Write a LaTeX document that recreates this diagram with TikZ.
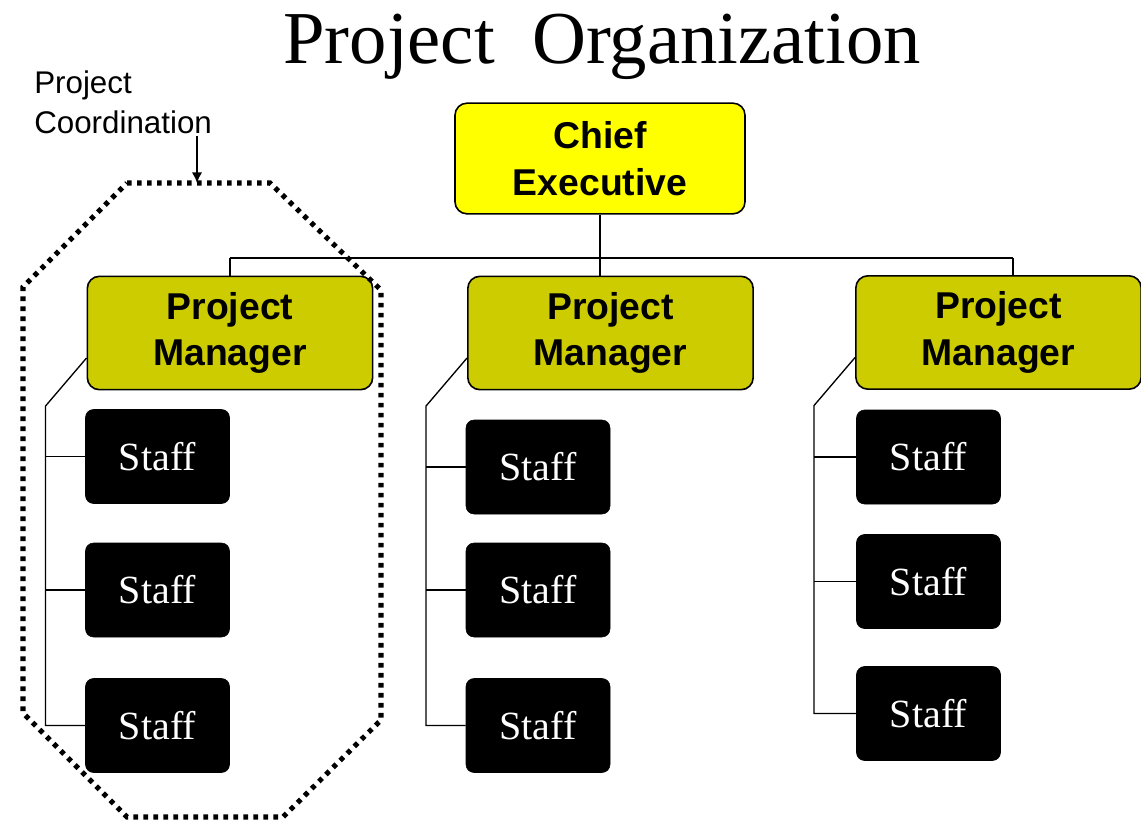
\documentclass[tikz,border=0pt]{standalone}
\usepackage{fontspec}
\setmainfont{Liberation Serif}
\setsansfont{Liberation Sans}
\usetikzlibrary{arrows.meta}

\begin{document}
\begin{tikzpicture}[x=0.75pt,y=0.75pt,yscale=-1]
\tikzstyle{every node}=[inner sep=0.75pt]
\tikzstyle{chiefbox}=[draw=black, line width=1.2pt, fill={rgb,255:red,255;green,255;blue,0}, rounded corners=9pt, minimum width=217.5pt, minimum height=83pt, align=center, font=\sffamily\bfseries\fontsize{28}{35}\selectfont]
\tikzstyle{pmbox}=[chiefbox, fill={rgb,255:red,204;green,204;blue,0}, minimum width=214pt, minimum height=85pt]
\tikzstyle{staffbox}=[draw=black, fill=black, text=white, rounded corners=6pt, minimum width=108pt, minimum height=70.5pt, font=\rmfamily\fontsize{30}{36}\selectfont]
\tikzstyle{link}=[line width=1pt]
\tikzstyle{dotline}=[line width=3.8pt, dash pattern=on 3.5pt off 4pt]

\useasboundingbox (0,0) rectangle (1141,828);

% Title
\node (title) at (602,47) {\fontsize{56}{62}\selectfont Project\ \ Organization};

% Boxes
\node [chiefbox] (chief) at (600,158.5) {Chief\\Executive};
\node [pmbox] (pm1) at (230,333) {Project\\Manager};
\node [pmbox] (pm2) at (610.5,333) {Project\\Manager};
\node [pmbox] (pm3) at (998.5,332.5) {Project\\Manager};

\foreach \c/\x/\ya/\yb/\yc in {1/157.5/456.5/590/725.5, 2/538/467/590/725.5, 3/928.5/457/581.5/713.5}{
  \node [staffbox] (s\c1) at (\x,\ya) {Staff};
  \node [staffbox] (s\c2) at (\x,\yb) {Staff};
  \node [staffbox] (s\c3) at (\x,\yc) {Staff};
}

% Connectors
\coordinate (busL) at (230,258);
\coordinate (busR) at (1013,258);
\draw [link] (busL) -- (busR);
\draw [link] (busL) -- (busL |- pm1.north);
\draw [link] (busR) -- (busR |- pm3.north);
\draw [link] (chief.south) -- (chief.south |- pm2.north);

\foreach \c in {1,2,3}{
  \draw [link] (pm\c.west) ++(0,25) -- ++(-41,48) coordinate (k\c) |- (s\c3.west);
  \draw [link] (s\c1.west) -- (s\c1.west -| k\c);
  \draw [link] (s\c2.west) -- (s\c2.west -| k\c);
}

% Project coordination
\node [anchor=north west, align=left, font=\sffamily\fontsize{23.5}{30}\selectfont] (coordlbl) at (33,70) {Project\\Coordination};
\coordinate (octtop) at (197,183);
\draw [dotline] (127,183) -- (270,183) -- (381,290) -- (381,720) -- (283,817) -- (127,817) -- (23,713) -- (23,287) -- cycle;
\draw [line width=2pt, -{Latex[length=8pt,width=8pt]}] (coordlbl.south -| octtop) -- (octtop);
\end{tikzpicture}
\end{document}
